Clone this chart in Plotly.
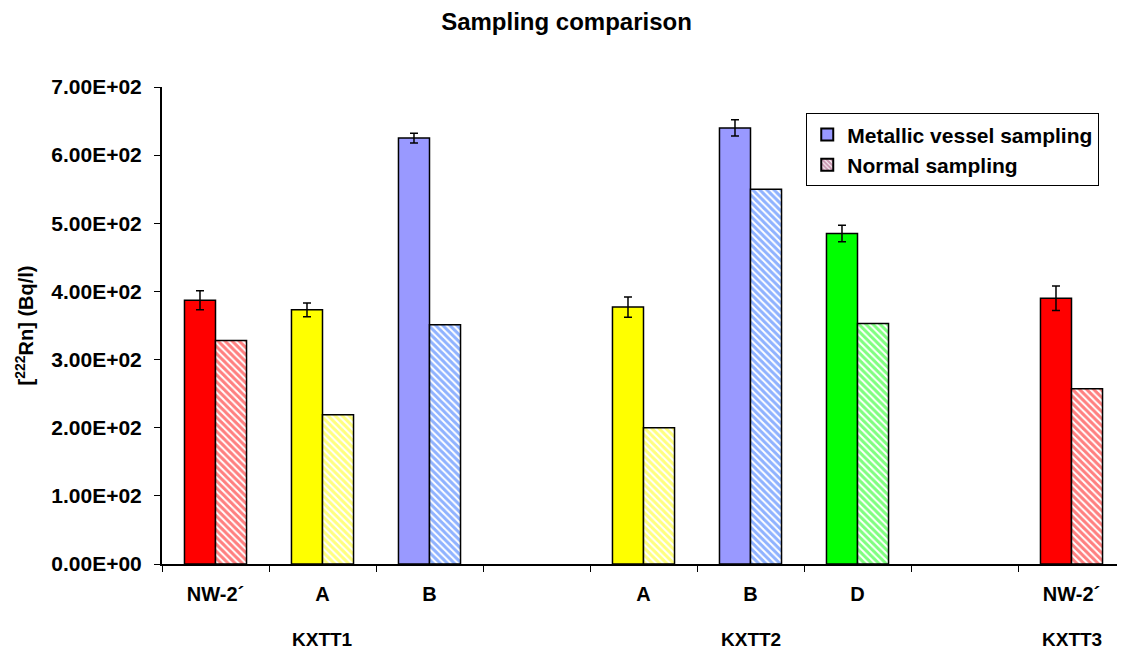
import plotly.graph_objects as go

# ---- data ----
categories = ["KXTT1 NW-2´", "KXTT1 A", "KXTT1 B", "gap1",
              "KXTT2 A", "KXTT2 B", "KXTT2 D", "gap2", "KXTT3 NW-2´"]
tick_labels = ["NW-2´", "A", "B", "", "A", "B", "D", "", "NW-2´"]
metallic = [387, 373, 625, None, 377, 640, 485, None, 390]
metallic_err = [14, 10, 7, 0, 15, 12, 12, 0, 18]
normal = [328, 219, 351, None, 200, 550, 353, None, 257]
solid_colors = ["#FF0000", "#FFFF00", "#9999FF", "#FFFFFF",
                "#FFFF00", "#9999FF", "#00FF00", "#FFFFFF", "#FF0000"]
hatch_colors = ["#FF0000", "#FFFF00", "#1F66FF", "#FFFFFF",
                "#FFFF00", "#1F66FF", "#00FF00", "#FFFFFF", "#FF0000"]
groups = ["KXTT1", "KXTT2", "KXTT3"]
group_at = ["KXTT1 A", "KXTT2 B", "KXTT3 NW-2´"]
y_ticks = [0, 100, 200, 300, 400, 500, 600, 700]
y_tick_labels = ["0.00E+00", "1.00E+02", "2.00E+02", "3.00E+02",
                 "4.00E+02", "5.00E+02", "6.00E+02", "7.00E+02"]
series_names = ["Metallic vessel sampling", "Normal sampling"]

FONT = "Liberation Sans, Arial, sans-serif"

fig = go.Figure()
fig.add_trace(go.Bar(
    x=categories, y=metallic, offsetgroup="m", showlegend=False,
    marker=dict(color=solid_colors, line=dict(color="black", width=1.5)),
    error_y=dict(type="data", array=metallic_err, color="black",
                 thickness=1.5, width=4),
))
fig.add_trace(go.Bar(
    x=categories, y=normal, offsetgroup="n", showlegend=False,
    marker=dict(color="white", line=dict(color="black", width=1.5),
                pattern=dict(shape="\\", fgcolor=hatch_colors, bgcolor="white",
                             size=5, solidity=0.6, fillmode="overlay")),
))
# legend entries
fig.add_trace(go.Bar(
    x=[categories[0]], y=[None], offsetgroup="m", name=series_names[0],
    marker=dict(color="#9999FF", line=dict(color="black", width=1.5)),
))
fig.add_trace(go.Bar(
    x=[categories[0]], y=[None], offsetgroup="n", name=series_names[1],
    marker=dict(color="white", line=dict(color="black", width=1.5),
                pattern=dict(shape="\\", fgcolor="#993366", bgcolor="white",
                             size=4, solidity=0.7, fillmode="overlay")),
))

for g, at in zip(groups, group_at):
    fig.add_annotation(x=at, xref="x", y=-0.159, yref="paper", text=g,
                       showarrow=False, yanchor="middle",
                       font=dict(family=FONT, size=19, color="black", weight="bold"))

fig.update_layout(
    width=1117, height=647,
    margin=dict(l=154, r=0, t=79, b=91),
    paper_bgcolor="white", plot_bgcolor="white",
    barmode="group", bargap=0.42, bargroupgap=0,
    title=dict(text="Sampling comparison", x=0.5, xref="container", xanchor="center",
               y=1 - 14 / 647, yref="container", yanchor="middle",
               font=dict(family=FONT, size=24, color="black", weight="bold")),
    font=dict(family=FONT, color="black"),
    legend=dict(x=0.669, y=0.945, xanchor="left", yanchor="top",
                bordercolor="black", borderwidth=1, bgcolor="white",
                font=dict(family=FONT, size=21, color="black", weight="bold"),
                tracegroupgap=0, itemsizing="constant"),
    xaxis=dict(type="category", categoryorder="array", categoryarray=categories,
               tickmode="array", tickvals=categories, ticktext=tick_labels,
               tickson="boundaries", ticks="outside", ticklen=6, tickwidth=1,
               tickcolor="black", showline=True, linecolor="black", linewidth=2,
               showgrid=False, ticklabelstandoff=11,
               tickfont=dict(family=FONT, size=20, color="black", weight="bold")),
    yaxis=dict(range=[0, 700], tickmode="array", tickvals=y_ticks,
               ticktext=y_tick_labels, ticks="outside", ticklen=6, tickwidth=1,
               tickcolor="black", showline=True, linecolor="black", linewidth=2,
               showgrid=False, zeroline=False, ticklabelstandoff=8,
               tickfont=dict(family=FONT, size=21, color="black", weight="bold"),
               title=dict(text="[<sup>222</sup>Rn] (Bq/l)", standoff=12,
                          font=dict(family=FONT, size=20, color="black", weight="bold"))),
)

fig.write_html("out.html")
